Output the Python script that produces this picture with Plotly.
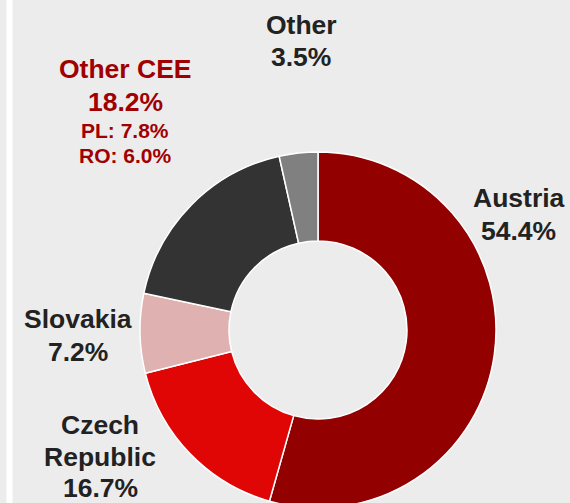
import plotly.graph_objects as go

labels = ["Austria", "Czech Republic", "Slovakia", "Other CEE", "Other"]
values = [54.4, 16.7, 7.2, 18.2, 3.5]
colors = ["#920000", "#e00606", "#dfb1b1", "#333333", "#808080"]
cee_detail_labels = ["PL", "RO"]
cee_detail_values = [7.8, 6.0]

W, H = 570, 508  # figure drawn slightly taller than the 503px view; the ring runs off the bottom
CX, CY, R = 318, 330, 178
FONT = "Liberation Sans, Arial, Helvetica, sans-serif"
DARK = "#222222"
CEE_RED = "#a00000"
BIG, SMALL = 26.5, 21

fig = go.Figure(go.Pie(
    labels=labels, values=values, sort=False, direction="clockwise", rotation=0,
    hole=0.5, marker=dict(colors=colors, line=dict(color="white", width=1.5)),
    textinfo="none", hoverinfo="label+percent", showlegend=False,
    domain=dict(x=[(CX - R) / W, (CX + R) / W], y=[(H - CY - R) / H, (H - CY + R) / H]),
))

def pct(v):
    return f"{v:.1f}%"

# (lines, x_px, [cap-centre y_px per line], size per line, colour)
blocks = [
    (["Austria", pct(values[0])], 518.5, [198, 231], [BIG, BIG], DARK),
    (["Czech", "Republic", pct(values[1])], 100, [425, 457, 488], [BIG, BIG, BIG], DARK),
    (["Slovakia", pct(values[2])], 78, [319, 352], [BIG, BIG], DARK),
    (["Other CEE", pct(values[3])] + [f"{l}: {pct(v)}" for l, v in zip(cee_detail_labels, cee_detail_values)],
     125, [69.5, 102, 130, 155.5], [BIG, BIG, SMALL, SMALL], CEE_RED),
    (["Other", pct(values[4])], 301, [25, 57], [BIG, BIG], DARK),
]

annotations = []
for lines, x, ys, sizes, col in blocks:
    for t, y, s in zip(lines, ys, sizes):
        annotations.append(dict(
            text=f"<b>{t}</b>", x=x / W, y=1 - y / H, xref="paper", yref="paper",
            xanchor="center", yanchor="middle", showarrow=False,
            font=dict(family=FONT, size=s, color=col),
        ))

fig.update_layout(
    width=W, height=H, margin=dict(l=0, r=0, t=0, b=0),
    paper_bgcolor="#ececec", plot_bgcolor="#ececec",
    annotations=annotations,
    shapes=[dict(type="rect", xref="paper", yref="paper", x0=6.5 / W, x1=12.5 / W, y0=0, y1=1,
                 fillcolor="white", line=dict(width=0), layer="below")],
)

fig.write_html(
    "out.html",
    config={"displayModeBar": False},
    post_script="document.body.style.margin='0';document.body.style.overflow='hidden';",
)
